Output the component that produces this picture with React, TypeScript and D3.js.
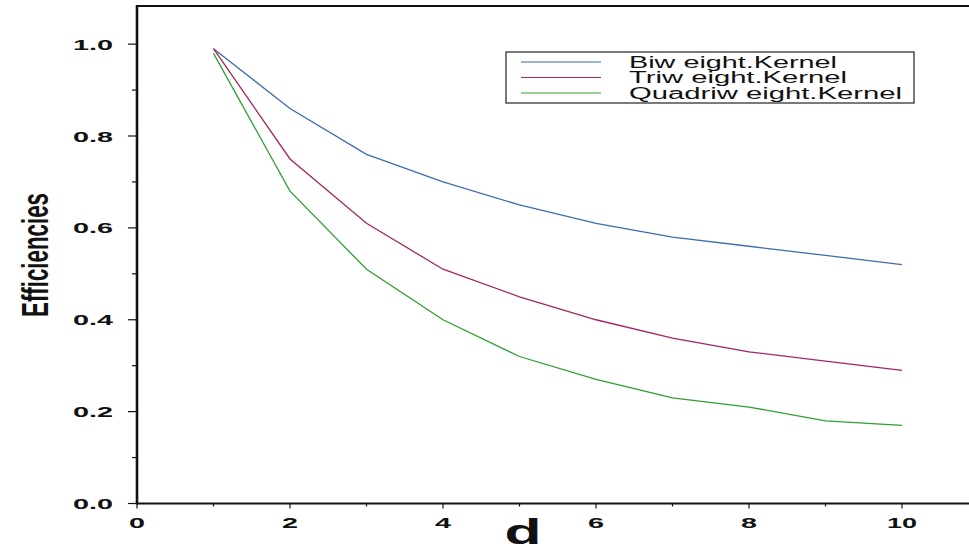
import React from 'react';
import * as d3 from 'd3';

// values
const dValues = [1, 2, 3, 4, 5, 6, 7, 8, 9, 10];
const biweight = [0.99, 0.86, 0.76, 0.70, 0.65, 0.61, 0.58, 0.56, 0.54, 0.52];
const triweight = [0.99, 0.75, 0.61, 0.51, 0.45, 0.40, 0.36, 0.33, 0.31, 0.29];
const quadriweight = [0.98, 0.68, 0.51, 0.40, 0.32, 0.27, 0.23, 0.21, 0.18, 0.17];
const seriesNames = ['Biw eight.Kernel', 'Triw eight.Kernel', 'Quadriw eight.Kernel'];
const seriesColors = ['#3d6dab', '#a32662', '#2f9f33'];
const xTicks = [0, 2, 4, 6, 8, 10];
const xMinor = [1, 3, 5, 7, 9, 11];
const yTicks = [0, 0.2, 0.4, 0.6, 0.8, 1.0];
const yMinor = [0.1, 0.3, 0.5, 0.7, 0.9];

export default function App() {
    const width = 969;
    const height = 548;
    const left = 137;
    const bottom = 503.5;
    const top = 6;

    const x = d3.scaleLinear().domain([0, 11]).range([left, 978.5]);
    const y = d3.scaleLinear().domain([0, 1.083]).range([bottom, top]);

    const line = d3.line<number>()
        .x((d, i) => x(dValues[i]))
        .y(d => y(d));

    const allSeries = [biweight, triweight, quadriweight];
    const font = '"Liberation Sans", Arial, sans-serif';
    // legend text is drawn wide in the original
    const legendWidths = [208, 218, 273];

    return (
        <svg width={width} height={height}
            style={{ position: 'absolute', left: 0, top: 0, background: '#fff' }}>
            {/* frame */}
            <line x1={left} x2={width} y1={top} y2={top} stroke="#111" strokeWidth={2} />
            <line x1={left} x2={width} y1={bottom} y2={bottom} stroke="#111" strokeWidth={2} />
            <line x1={left} x2={left} y1={top - 1} y2={bottom + 1} stroke="#111" strokeWidth={2.6} />

            {/* y ticks */}
            {yTicks.map(t => (
                <g key={'y' + t}>
                    <line x1={left - 9} x2={left} y1={y(t)} y2={y(t)} stroke="#111" strokeWidth={1.2} />
                    <text x={113} y={y(t) + 5.5} textAnchor="end" fontFamily={font} fontWeight="bold"
                        fontSize={15} textLength={40} lengthAdjust="spacingAndGlyphs" fill="#111">
                        {t.toFixed(1)}
                    </text>
                </g>
            ))}
            {yMinor.map(t => (
                <line key={'ym' + t} x1={left - 5} x2={left} y1={y(t)} y2={y(t)} stroke="#111" strokeWidth={1.2} />
            ))}

            {/* x ticks */}
            {xTicks.map(t => (
                <g key={'x' + t}>
                    <line x1={x(t)} x2={x(t)} y1={bottom} y2={bottom + 5} stroke="#111" strokeWidth={1.2} />
                    <text x={x(t)} y={528} textAnchor="middle" fontFamily={font} fontWeight="bold"
                        fontSize={15} textLength={String(t).length === 1 ? 16 : 30}
                        lengthAdjust="spacingAndGlyphs" fill="#111">
                        {t}
                    </text>
                </g>
            ))}
            {xMinor.map(t => (
                <line key={'xm' + t} x1={x(t)} x2={x(t)} y1={bottom} y2={bottom + 3} stroke="#111" strokeWidth={1.2} />
            ))}

            {/* axis titles */}
            <text transform="translate(48,255) rotate(-90)" textAnchor="middle" fontFamily={font}
                fontWeight="bold" fontSize={36} textLength={124} lengthAdjust="spacingAndGlyphs" fill="#111">
                Efficiencies
            </text>
            <text x={523} y={544} textAnchor="middle" fontFamily={font} fontWeight="bold"
                fontSize={35} textLength={37} lengthAdjust="spacingAndGlyphs" fill="#111">
                d
            </text>

            {/* series */}
            {allSeries.map((s, i) => (
                <path key={seriesNames[i]} d={line(s) || ''} fill="none"
                    stroke={seriesColors[i]} strokeWidth={1.3} />
            ))}

            {/* legend */}
            <rect x={506} y={52} width={408} height={51} fill="#fff" stroke="#333" strokeWidth={1.3} />
            {seriesNames.map((n, i) => (
                <g key={'lg' + n}>
                    <line x1={521} x2={601} y1={62 + i * 15.5} y2={62 + i * 15.5}
                        stroke={seriesColors[i]} strokeWidth={1.2} />
                    <text x={629} y={67.5 + i * 15.5} fontFamily={font} fontSize={16} fill="#111"
                        textLength={legendWidths[i]} lengthAdjust="spacingAndGlyphs">
                        {n}
                    </text>
                </g>
            ))}
        </svg>
    );
}
